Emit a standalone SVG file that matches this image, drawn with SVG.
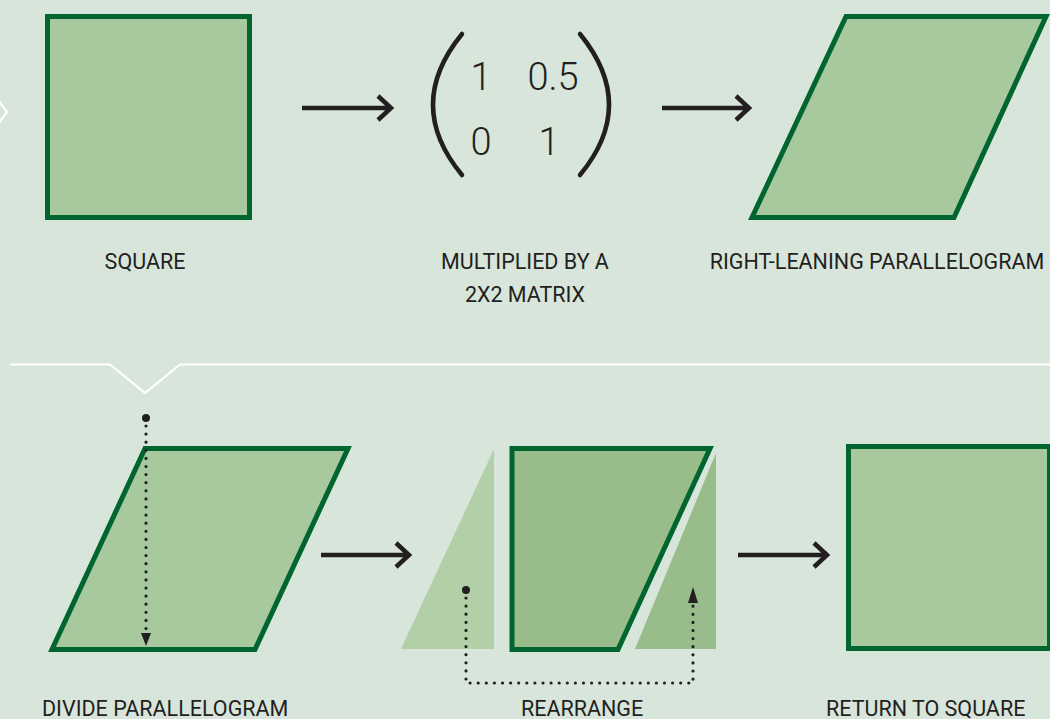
<svg xmlns="http://www.w3.org/2000/svg" width="1050" height="719" viewBox="0 0 1050 719">
<style>
.shape{fill:#a8c89e;stroke:#00652e;stroke-width:5;stroke-linejoin:miter}
.arrow{fill:none;stroke:#231f20;stroke-width:4.5;stroke-linejoin:miter}
.dots{fill:none;stroke:#231f20;stroke-width:3.2;stroke-linecap:round;stroke-dasharray:0 8.1}
.lbl{font-family:Roboto,"Liberation Sans",sans-serif;font-size:21.5px;fill:#231f20;text-anchor:middle}
.lbs{font-family:Roboto,"Liberation Sans",sans-serif;font-size:21.5px;fill:#231f20;text-anchor:start}
.mtx{font-family:Roboto,"Liberation Sans",sans-serif;font-weight:300;font-size:38px;fill:#231f20;text-anchor:middle}
.paren{fill:none;stroke:#231f20;stroke-width:4.5;stroke-linecap:round}
.divider{fill:none;stroke:#ffffff;stroke-width:2.2}
</style>
<rect width="1050" height="719" fill="#d8e5db"/>
<g id="decor">
<polyline class="divider" points="-2,100 7,112 -2,124"/>
<polyline class="divider" points="10,364.5 110,364.5 145,393 180,364.5 1052,364.5"/>
</g>
<g id="square">
<rect class="shape" x="47.5" y="16.5" width="202" height="201"/>
<text class="lbl" x="145" y="269">SQUARE</text>
</g>
<g id="matrix">
<path class="paren" d="M462,34 Q404,105 462,175"/>
<path class="paren" d="M580,34 Q638,105 580,175"/>
<text class="mtx" x="481" y="90">1</text>
<text class="mtx" x="553" y="90">0.5</text>
<text class="mtx" x="481" y="155">0</text>
<text class="mtx" x="549" y="155">1</text>
<text class="lbl" x="525" y="269">MULTIPLIED BY A</text>
<text class="lbl" x="525" y="302">2X2 MATRIX</text>
</g>
<g id="parallelogram">
<polygon class="shape" points="846,16.5 1046,16.5 954,217.5 752,217.5"/>
<text class="lbl" x="877" y="269">RIGHT-LEANING PARALLELOGRAM</text>
</g>
<g id="divide">
<polygon class="shape" points="145,448.5 348,448.5 255,649.5 52,649.5"/>
<circle cx="146" cy="418" r="4" fill="#231f20"/>
<text class="lbs" x="42" y="716">DIVIDE PARALLELOGRAM</text>
</g>
<g id="rearrange">
<polygon points="401,649 494,449 494,649" fill="#b2cfa8"/>
<polygon points="512,448.5 710,448.5 618,649.5 512,649.5" fill="#98bd8a" stroke="#00652e" stroke-width="5"/>
<polygon points="635,649 716,453 716,649" fill="#98bd8a"/>
<circle cx="466" cy="590" r="4" fill="#231f20"/>
<text class="lbs" x="521" y="716">REARRANGE</text>
</g>
<g id="return-square">
<rect class="shape" x="848.5" y="446.5" width="201" height="202"/>
<text class="lbs" x="826" y="716">RETURN TO SQUARE</text>
</g>
<g id="connectors">
<path class="arrow" d="M302,108 H390 M378,96 L391,108 L378,120"/>
<path class="arrow" d="M662,108 H748 M736,96 L749,108 L736,120"/>
<path class="arrow" d="M321,555 H408 M396,543 L409,555 L396,567"/>
<path class="arrow" d="M738,555 H826 M814,543 L827,555 L814,567"/>
<path class="dots" d="M146,426 V633"/>
<polygon points="141,633 151,633 146,646" fill="#231f20"/>
<path class="dots" d="M466,598 V683 H693 V604"/>
<polygon points="688,603 698,603 693,587" fill="#231f20"/>
</g>
</svg>
